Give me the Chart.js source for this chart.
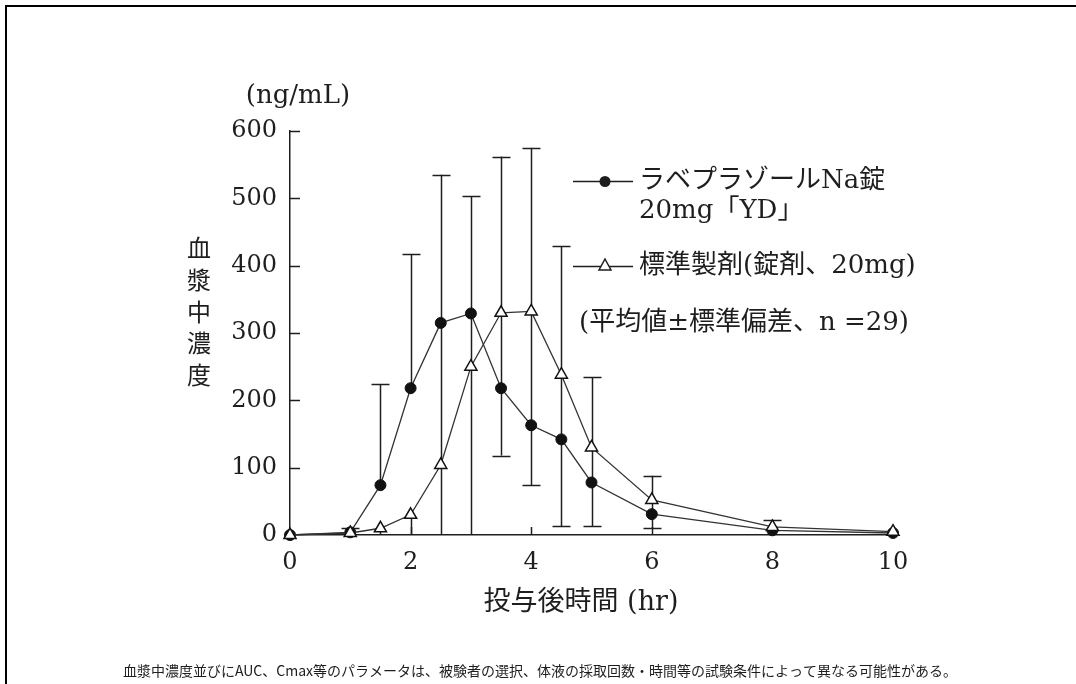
<!DOCTYPE html>
<html><head><meta charset="utf-8">
<script src="https://cdn.jsdelivr.net/npm/chart.js@4.4.1/dist/chart.umd.min.js"></script>
<style>
html,body{margin:0;padding:0;background:#fff;}
#wrap{position:relative;width:1076px;height:684px;overflow:hidden;background:#fff;}
#frame{position:absolute;left:5px;top:5px;width:1100px;height:720px;border-top:2px solid #000;border-left:2px solid #000;}
canvas{position:absolute;left:0;top:0;}
</style></head><body>
<div id="wrap"><div id="frame"></div><canvas id="c" width="1076" height="684"></canvas></div>
<script>
// ---- data ----
const times = [0, 1, 1.5, 2, 2.5, 3, 3.5, 4, 4.5, 5, 6, 8, 10];
const xTicks = [0, 2, 4, 6, 8, 10];
const yTicks = [0, 100, 200, 300, 400, 500, 600];
const rabeName = ['ラベプラゾールNa錠', '20mg「YD」'];
const stdName = '標準製剤(錠剤、20mg)';
const noteText = '(平均値±標準偏差、n =29)';
const rabeMean = [0, 4, 74, 218, 315, 329, 218, 163, 142, 78, 31, 7, 3];
const rabeHi   = [null, 10, 224, 417, null, null, 330, 332, 238, 130, 52, 12, null];
const rabeLo   = [null, null, null, null, null, null, 118, 74, 13, 13, 10, 0, null];
const stdMean  = [0, 3, 10, 30, 104, 250, 330, 332, 238, 130, 52, 12, 5];
const stdHi    = [null, null, null, null, 535, 503, 562, 575, 429, 234, 88, 22, null];
const stdLo    = [null, null, 0, 0, 0, 0, null, null, null, null, null, null, null];

const SERIF = '"DejaVu Serif","Noto Sans CJK JP"';
const INK = '#1e1e1e';

const decor = {
  id: 'decor',
  beforeDatasetsDraw(chart) {
    const ctx = chart.ctx, xs = chart.scales.x, ys = chart.scales.y;
    ctx.save();
    ctx.strokeStyle = INK; ctx.lineWidth = 1.5;
    // inward tick marks
    yTicks.forEach(v => { if (v === 0) return; const y = Math.round(ys.getPixelForValue(v)) + 0.5;
      ctx.beginPath(); ctx.moveTo(xs.left, y); ctx.lineTo(xs.left + 10, y); ctx.stroke(); });
    xTicks.forEach(v => { if (v === 0) return; const x = Math.round(xs.getPixelForValue(v)) + 0.5;
      ctx.beginPath(); ctx.moveTo(x, ys.bottom); ctx.lineTo(x, ys.bottom - 8); ctx.stroke(); });
    // error bars
    const sets = [[rabeMean, rabeHi, rabeLo], [stdMean, stdHi, stdLo]];
    times.forEach((t, i) => {
      const segs = [];
      sets.forEach(([m, h, l]) => {
        if (h[i] != null) segs.push([m[i], h[i]]);
        if (l[i] != null) segs.push([m[i], l[i]]);
      });
      if (!segs.length) return;
      const means = sets.map(s => s[0][i]);
      const bounds = segs.map(s => s[1]);
      const top = Math.max(...bounds), bot = Math.min(...bounds);
      const x = Math.round(xs.getPixelForValue(t)) + 0.5;
      segs.forEach(([m, b]) => {
        ctx.beginPath(); ctx.moveTo(x, ys.getPixelForValue(m)); ctx.lineTo(x, ys.getPixelForValue(b)); ctx.stroke();
      });
      const cap = v => { const y = Math.round(ys.getPixelForValue(v)) + 0.5;
        ctx.beginPath(); ctx.moveTo(x - 9, y); ctx.lineTo(x + 9, y); ctx.stroke(); };
      if (top > Math.max(...means)) cap(top);
      if (bot > 0 && bot < Math.min(...means)) cap(bot);
    });
    ctx.restore();
  },
  afterDraw(chart) {
    const ctx = chart.ctx;
    ctx.save();
    ctx.fillStyle = INK; ctx.strokeStyle = INK;
    ctx.textBaseline = 'middle';
    // unit
    ctx.font = '26px ' + SERIF; ctx.textAlign = 'center';
    ctx.fillText('(ng/mL)', 298, 96);
    // y title vertical
    ctx.font = '24px "Noto Sans CJK JP"';
    const yt = '血漿中濃度';
    [...yt].forEach((ch, k) => ctx.fillText(ch, 199, 248 + k * 31.7));
    // x title
    ctx.font = '27px ' + SERIF;
    ctx.fillText('投与後時間 (hr)', 581, 603);
    // legend
    ctx.textAlign = 'left';
    ctx.lineWidth = 1.3;
    ctx.beginPath(); ctx.moveTo(573, 181.5); ctx.lineTo(633, 181.5); ctx.stroke();
    ctx.beginPath(); ctx.arc(605, 181.5, 5.5, 0, Math.PI * 2); ctx.fill();
    ctx.beginPath(); ctx.moveTo(573, 266.5); ctx.lineTo(633, 266.5); ctx.stroke();
    ctx.beginPath(); ctx.moveTo(605, 259); ctx.lineTo(611, 270); ctx.lineTo(599, 270); ctx.closePath();
    ctx.fillStyle = '#fff'; ctx.fill(); ctx.lineWidth = 1.5; ctx.stroke();
    ctx.fillStyle = INK;
    ctx.font = '26px ' + SERIF;
    ctx.fillText(rabeName[0], 639, 181);
    ctx.fillText(rabeName[1], 639, 211);
    ctx.fillText(stdName, 639, 266);
    ctx.fillText(noteText, 579, 323);
    // footer
    ctx.textAlign = 'center';
    ctx.font = '14px "Noto Sans CJK JP"';
    ctx.fillText('血漿中濃度並びにAUC、Cmax等のパラメータは、被験者の選択、体液の採取回数・時間等の試験条件によって異なる可能性がある。', 540, 671);
    ctx.restore();
  }
};

new Chart(document.getElementById('c'), {
  type: 'line',
  data: {
    datasets: [
      { label: stdName, data: times.map((t, i) => ({ x: t, y: stdMean[i] })), clip: false,
        borderColor: '#333', borderWidth: 1.3, pointStyle: 'triangle', pointRadius: 7,
        pointBackgroundColor: '#fff', pointBorderColor: '#111', pointBorderWidth: 1.5, order: 0 },
      { label: rabeName.join(''), data: times.map((t, i) => ({ x: t, y: rabeMean[i] })), clip: false,
        borderColor: '#333', borderWidth: 1.3, pointStyle: 'circle', pointRadius: 5.5,
        pointBackgroundColor: '#111', pointBorderColor: '#111', pointBorderWidth: 1, order: 1 }
    ]
  },
  options: {
    responsive: false, animation: false, devicePixelRatio: 1,
    layout: { padding: { left: 210, right: 183, top: 131, bottom: 99 } },
    plugins: { legend: { display: false }, tooltip: { enabled: false } },
    scales: {
      x: { type: 'linear', min: 0, max: 10,
        afterBuildTicks: s => { s.ticks = xTicks.map(v => ({ value: v })); },
        afterFit: s => { s.height = 50; },
        ticks: { font: { family: 'DejaVu Serif', size: 24 }, color: INK, padding: 13, maxRotation: 0 },
        grid: { display: false, drawTicks: false },
        border: { display: true, color: INK, width: 1.5 } },
      y: { min: 0, max: 600,
        afterBuildTicks: s => { s.ticks = yTicks.map(v => ({ value: v })); },
        afterFit: s => { s.width = 80; },
        ticks: { font: { family: 'DejaVu Serif', size: 24 }, color: INK, padding: 13 },
        grid: { display: false, drawTicks: false },
        border: { display: true, color: INK, width: 1.5 } }
    }
  },
  plugins: [decor]
});
</script>
</body></html>
